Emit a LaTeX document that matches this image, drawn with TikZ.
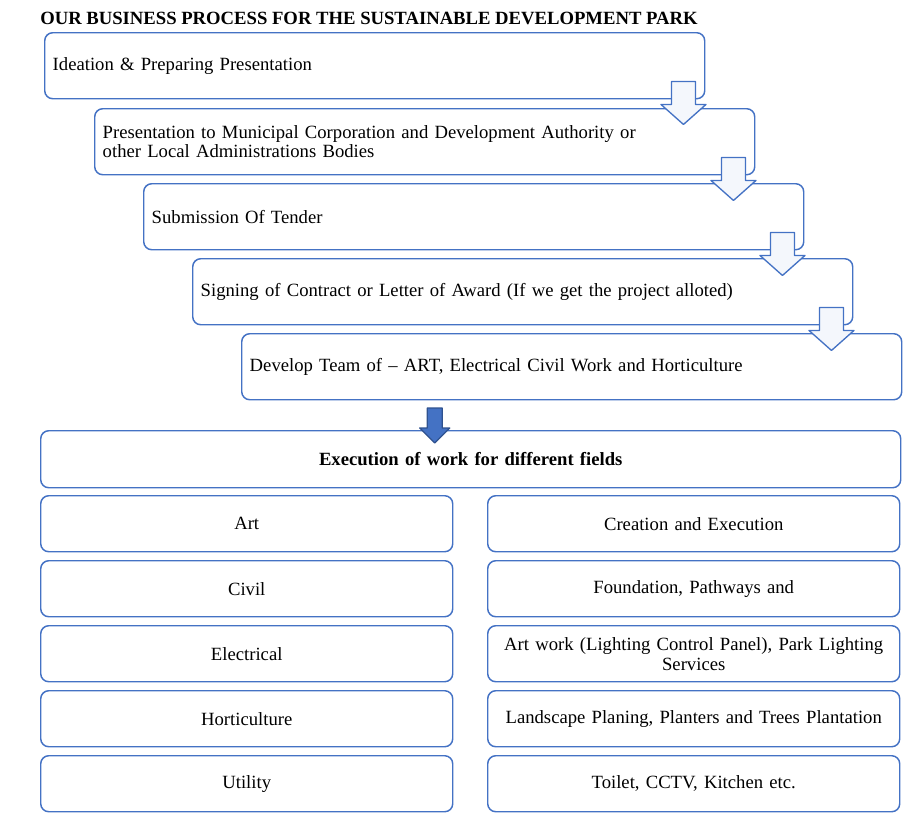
\documentclass[tikz,border=0pt]{standalone}
\usepackage{fontspec}
\setmainfont{Liberation Serif}
\usetikzlibrary{positioning}
\definecolor{boxblue}{HTML}{4472C4}
\definecolor{darkblue}{HTML}{2F528F}
\definecolor{paleblue}{HTML}{F4F7FC}
\tikzset{
  stepbox/.style={draw=boxblue,line width=1.1pt,rounded corners=6pt,anchor=north west,
    minimum width=495pt,minimum height=49.5pt,text width=483pt,inner xsep=6pt,align=left,
    font=\fontsize{14}{14.25}\selectfont},
  cellbox/.style={draw=boxblue,line width=1.1pt,rounded corners=6pt,anchor=north west,
    minimum width=309pt,minimum height=42pt,text width=299pt,inner xsep=5pt,align=center,
    font=\fontsize{14}{15}\selectfont},
  hollowdown/.pic={\draw[boxblue,line width=1pt,fill=paleblue] (-12,0) -- (12,0) -- (12,23) -- (22.5,23) -- (0,43) -- (-22.5,23) -- (-12,23) -- cycle;},
  soliddown/.pic={\draw[darkblue,line width=1pt,fill=boxblue] (-7.5,0) -- (7.5,0) -- (7.5,20) -- (15,20) -- (0,35) -- (-15,20) -- (-7.5,20) -- cycle;}
}
\begin{document}
\begin{tikzpicture}[line cap=round,line join=round,x=0.75pt,y=-0.75pt]
\useasboundingbox (0,0) rectangle (922,825);
\node[anchor=west,inner sep=0pt,font=\fontsize{14}{14}\selectfont\bfseries] (title) at (40,18) {OUR BUSINESS PROCESS FOR THE SUSTAINABLE DEVELOPMENT PARK};
% the five steps
\node[stepbox] (ideation) at (44,32) {Ideation \& Preparing Presentation};
\node[stepbox] (presentation) at (94,108) {Presentation to Municipal Corporation and Development Authority or\\other Local Administrations Bodies};
\node[stepbox] (tender) at (143,183) {Submission Of Tender};
\node[stepbox] (contract) at (192,258) {Signing of Contract or Letter of Award (If we get the project alloted)};
\node[stepbox] (team) at (241,333) {Develop Team of -- ART, Electrical Civil Work and Horticulture};
\pic at ([xshift=-16.5pt,yshift=13.5pt]ideation.south east) {hollowdown};
\pic at ([xshift=-16.5pt,yshift=13.5pt]presentation.south east) {hollowdown};
\pic at ([xshift=-16.5pt,yshift=13.5pt]tender.south east) {hollowdown};
\pic at ([xshift=-16.5pt,yshift=13.5pt]contract.south east) {hollowdown};
% execution table
\node[cellbox,minimum width=645pt,minimum height=42.75pt,text width=635pt,font=\fontsize{14}{14}\selectfont\bfseries] (execution) at (40,430) {Execution of work for different fields};
\pic at ([xshift=-27pt,yshift=16.5pt]execution.north) {soliddown};
\node[cellbox] (art) at (40,495) {Art};
\node[cellbox] (artwork) at (487,495) {Creation and Execution};
\node[cellbox] (civil) at (40,560) {Civil};
\node[cellbox] (civilwork) at (487,560) {Foundation, Pathways and};
\node[cellbox] (electrical) at (40,625) {Electrical};
\node[cellbox] (electricalwork) at (487,625) {Art work (Lighting Control Panel), Park Lighting\\Services};
\node[cellbox] (horticulture) at (40,690) {Horticulture};
\node[cellbox] (horticulturework) at (487,690) {Landscape Planing, Planters and Trees Plantation};
\node[cellbox] (utility) at (40,755) {Utility};
\node[cellbox] (utilitywork) at (487,755) {Toilet, CCTV, Kitchen etc.};
\end{tikzpicture}
\end{document}
